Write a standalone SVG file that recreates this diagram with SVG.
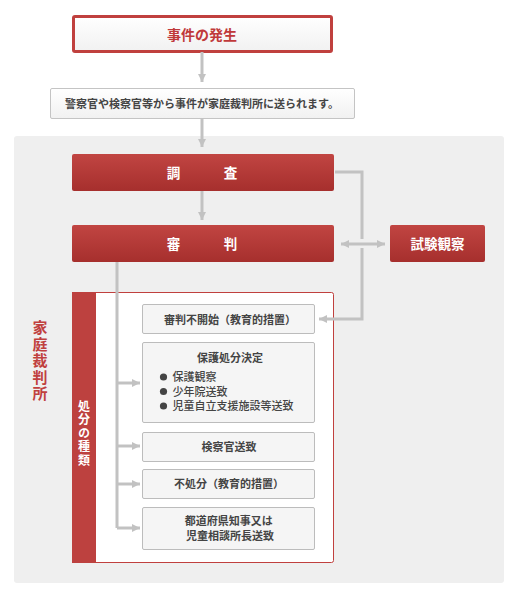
<svg xmlns="http://www.w3.org/2000/svg" width="521" height="599" viewBox="0 0 521 599">
<style>
.t{font-family:"Noto Sans CJK JP","Noto Sans CJK SC",sans-serif;font-weight:bold}
.red{fill:url(#rg)}
.wt{fill:#fff}
.gb{fill:#f5f5f5;stroke:#bcbcbc;stroke-width:1}
.dk{fill:#444}
.ln{fill:none;stroke:#c2c2c2;stroke-width:3}
.vt{writing-mode:vertical-rl}
</style>
<defs>
<linearGradient id="rg" x1="0" y1="0" x2="0" y2="1">
<stop offset="0" stop-color="#c14542"/>
<stop offset="1" stop-color="#a62f2d"/>
</linearGradient>
<linearGradient id="wg" x1="0" y1="0" x2="0" y2="1">
<stop offset="0" stop-color="#ffffff"/>
<stop offset="1" stop-color="#f1f1f1"/>
</linearGradient>
<marker id="ah" markerUnits="userSpaceOnUse" markerWidth="10" markerHeight="10" viewBox="0 0 10 10" refX="9" refY="5" orient="auto-start-reverse">
<path d="M1,1 L9,5 L1,9 Z" fill="#c2c2c2"/>
</marker>
</defs>
<rect width="521" height="599" fill="#fff"/>
<rect x="14" y="136" width="490" height="447" rx="3" fill="#efefef"/>

<g id="jiken">
<rect x="73.5" y="16.5" width="258" height="35" rx="1.5" fill="url(#wg)" stroke="#c0403e" stroke-width="3"/>
<text class="t" x="202" y="40" font-size="14" fill="#c0393a" text-anchor="middle">事件の発生</text>
</g>

<g id="soukou">
<rect x="50.5" y="88.5" width="304" height="30" rx="1.5" fill="url(#wg)" stroke="#c4c4c4" stroke-width="1"/>
<text class="t dk" x="202" y="107.5" font-size="11" text-anchor="middle">警察官や検察官等から事件が家庭裁判所に送られます。</text>
</g>

<g id="kasai-label">
<text class="t vt" x="40" y="320" font-size="15" letter-spacing="1.5" fill="#c0403e">家庭裁判所</text>
</g>

<g id="chousa">
<rect class="red" x="72" y="154" width="262" height="37" rx="2"/>
<text class="t wt" x="173.5" y="177.5" font-size="13.5" text-anchor="middle">調</text>
<text class="t wt" x="230.5" y="177.5" font-size="13.5" text-anchor="middle">査</text>
</g>

<g id="shinpan">
<rect class="red" x="72" y="225" width="262" height="37" rx="2"/>
<text class="t wt" x="173.5" y="248.5" font-size="13.5" text-anchor="middle">審</text>
<text class="t wt" x="230.5" y="248.5" font-size="13.5" text-anchor="middle">判</text>
</g>

<g id="shiken">
<rect class="red" x="390" y="225" width="95" height="37" rx="2"/>
<text class="t wt" x="437.5" y="248.5" font-size="13.5" text-anchor="middle">試験観察</text>
</g>

<g id="shobun-panel">
<rect x="72.5" y="292.5" width="261" height="270" rx="2" fill="#fff" stroke="#c0403e" stroke-width="1"/>
<rect x="72" y="292" width="24" height="271" fill="#bd413f"/>
<text class="t wt vt" x="84" y="400" font-size="12" letter-spacing="1.5">処分の種類</text>
</g>

<g id="fukaishi">
<rect class="gb" x="142.5" y="304.5" width="172" height="29" rx="1.5"/>
<text class="t dk" x="230" y="323.5" font-size="11" text-anchor="middle">審判不開始（教育的措置）</text>
</g>

<g id="hogo">
<rect class="gb" x="142.5" y="342.5" width="172" height="80" rx="1.5"/>
<text class="t dk" x="230" y="362" font-size="11" text-anchor="middle">保護処分決定</text>
<circle cx="163.5" cy="377" r="3.6" fill="#444"/>
<circle cx="163.5" cy="391.5" r="3.6" fill="#444"/>
<circle cx="163.5" cy="406" r="3.6" fill="#444"/>
<text class="t dk" font-size="11" style="font-weight:500">
<tspan x="172.5" y="381">保護観察</tspan>
<tspan x="172.5" y="395.5">少年院送致</tspan>
<tspan x="172.5" y="410">児童自立支援施設等送致</tspan>
</text>
</g>

<g id="kensatsu">
<rect class="gb" x="142.5" y="432.5" width="172" height="29" rx="1.5"/>
<text class="t dk" x="229" y="451" font-size="11" text-anchor="middle">検察官送致</text>
</g>

<g id="fushobun">
<rect class="gb" x="142.5" y="469.5" width="172" height="29" rx="1.5"/>
<text class="t dk" x="229" y="488" font-size="11" text-anchor="middle">不処分（教育的措置）</text>
</g>

<g id="chiji">
<rect class="gb" x="142.5" y="507.5" width="172" height="42" rx="1.5"/>
<text class="t dk" font-size="11" text-anchor="middle">
<tspan x="230" y="525">都道府県知事又は</tspan>
<tspan x="230" y="540">児童相談所長送致</tspan>
</text>
</g>

<g id="connectors">
<path class="ln" d="M202,52 V82" marker-end="url(#ah)"/>
<path class="ln" d="M202,118 V147" marker-end="url(#ah)"/>
<path class="ln" d="M202,191 V220" marker-end="url(#ah)"/>
<path class="ln" d="M335,172 H362 V239"/>
<path class="ln" d="M362,248 V319 H319" marker-end="url(#ah)"/>
<path class="ln" d="M341,244 H385" marker-start="url(#ah)" marker-end="url(#ah)"/>
<path class="ln" d="M117,262 V528"/>
<path class="ln" d="M117,383 H140" marker-end="url(#ah)"/>
<path class="ln" d="M117,446 H140" marker-end="url(#ah)"/>
<path class="ln" d="M117,484 H140" marker-end="url(#ah)"/>
<path class="ln" d="M117,528 H140" marker-end="url(#ah)"/>
</g>
</svg>
